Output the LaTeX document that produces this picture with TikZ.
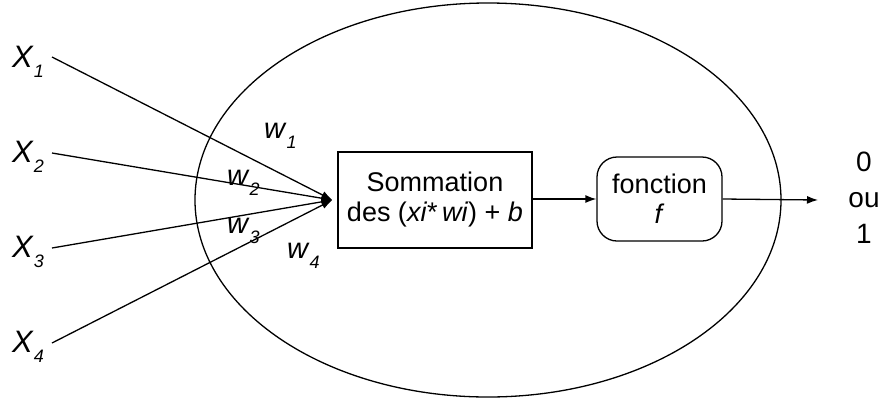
\documentclass[tikz,border=0pt]{standalone}
\usepackage{fontspec}
\setmainfont{Liberation Sans}
\usetikzlibrary{arrows.meta}
% italic letter with a lowered italic index
\newcommand\lbl[2]{\textit{#1}\raisebox{-10pt}{\fontsize{18}{18}\selectfont\textit{#2}}}
\begin{document}
\begin{tikzpicture}[x=1pt,y=-1pt,
  wire/.style={line width=1.3pt},
  tip/.style={-{Latex[length=11pt,width=8pt]}},
  txt/.style={font=\fontsize{27}{30}\selectfont, inner sep=0pt},
  outlbl/.style={font=\fontsize{28}{28}\selectfont, anchor=base, inner sep=0pt},
  inlbl/.style={font=\fontsize{31}{31}\selectfont, anchor=base west, inner sep=0pt},
  wlbl/.style={font=\fontsize{29}{29}\selectfont, anchor=base west, inner sep=0pt}]
\useasboundingbox (0,0) rectangle (883,400);

% neuron body
\draw[wire] (488,200) ellipse [x radius=293, y radius=197];

% summation and activation blocks
\node[draw, wire, txt, align=center, minimum width=194pt, minimum height=96pt] (sum) at (435,200)
  {Sommation\\des (\textit{xi}*\,\textit{wi}) + \textit{b}};
\node[draw, wire, txt, align=center, rounded corners=20pt, minimum width=125pt, minimum height=84pt] (act) at (659.5,199)
  {fonction\\\textit{f}};

% inputs
\node[inlbl] (x1) at (12,67) {\lbl{X}{1}};
\node[inlbl] (x2) at (12,162) {\lbl{X}{2}};
\node[inlbl] (x3) at (12,257) {\lbl{X}{3}};
\node[inlbl] (x4) at (12,352) {\lbl{X}{4}};
\coordinate (s1) at (52,57);
\coordinate (s2) at (52,153);
\coordinate (s3) at (52,248);
\coordinate (s4) at (52,343);
\coordinate (join) at ([xshift=-5pt]sum.west);
\foreach \i in {1,...,4} \draw[wire, tip] (s\i) -- (join);

% weights
\node[wlbl] (w1) at (264,138) {\lbl{w}{1}};
\node[wlbl] (w2) at (227,185) {\lbl{w}{2}};
\node[wlbl] (w3) at (227,233) {\lbl{w}{3}};
\node[wlbl] (w4) at (287,258) {\lbl{w}{4}};

% output
\node[outlbl] (o0) at (864,171) {0};
\node[outlbl] (o1) at (864,207) {ou};
\node[outlbl] (o2) at (864,243) {1};
\draw[wire, tip] (sum.east |- act.west) -- (act.west);
\draw[wire, tip] (act.east) -- (818,200);
\end{tikzpicture}
\end{document}
